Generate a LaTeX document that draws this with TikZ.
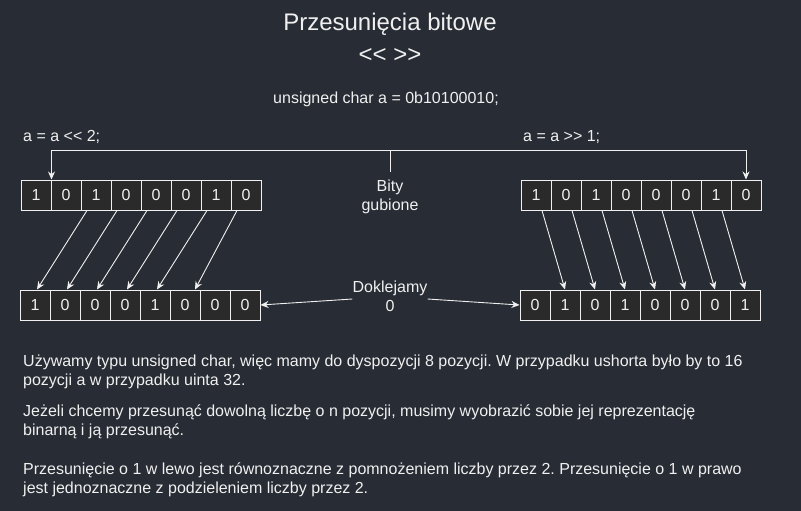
\documentclass[tikz,border=0pt]{standalone}
\usepackage{fontspec}
\setmainfont{Liberation Sans}
\frenchspacing
\usetikzlibrary{shapes,arrows.meta}
\usetikzlibrary{calc}
\definecolor{bgdark}{HTML}{282C34}
\definecolor{cellfill}{HTML}{2A2A2A}
\definecolor{fg}{HTML}{F0F0F0}
\tikzstyle{bit} = [rectangle, draw=fg, fill=cellfill, line width=1pt, minimum width=30pt,
minimum height = 30pt, inner sep=0pt, text=fg, font=\fontsize{16}{19}\selectfont]
\tikzstyle{note} = [text=fg, inner sep=0pt, font=\fontsize{16}{19}\selectfont]
\tikzstyle{line} = [draw, -{Stealth[length=8pt,width=7pt]}, color=fg, line width=0.9pt]

\begin{document}
\begin{tikzpicture}[x=1pt, y=-1pt]
	\fill [bgdark] (0,0) rectangle (801,511);
	\useasboundingbox (0,0) rectangle (801,511);
	%% Header
	\node [note, font=\fontsize{24}{28}\selectfont] (title) at (390,24) {Przesunięcia bitowe};
	\node [note, font=\fontsize{24}{28}\selectfont] (ops) at (390,56) {<\kern0pt< >\kern0pt>};
	\node [note] (decl) at (386,99) {unsigned char a = 0b10100010;};
	\node [note, anchor=west] (shl) at (23,137) {a = a <\kern0pt< 2;};
	\node [note, anchor=west] (shr) at (523,137) {a = a >\kern0pt> 1;};
	%% Bits
	\foreach \b [count=\i] in {1,0,1,0,0,0,1,0}
		\node [bit] (tl\i) at (6+30*\i,195) {\b};
	\foreach \b [count=\i] in {1,0,0,0,1,0,0,0}
		\node [bit] (bl\i) at (5+30*\i,305) {\b};
	\foreach \b [count=\i] in {1,0,1,0,0,0,1,0}
		\node [bit] (tr\i) at (506+30*\i,195) {\b};
	\foreach \b [count=\i] in {0,1,0,1,0,0,0,1}
		\node [bit] (br\i) at (505+30*\i,305) {\b};
	\node [note, align=center, inner ysep=8pt] (lost) at (390,197) {Bity\\gubione};
	\node [note, align=center] (glue) at (390,296) {Doklejamy\\0};
	\coordinate (top) at (390,150);
	%% Flows
	\path [line] (lost.north) -- (top) -| (tl1.north east);
	\path [line] (top) -| (tr8.north);
	\foreach \i/\e in {1/2,2/2,3/2,4/2,5/2,6/10} {
		\pgfmathtruncatemacro{\j}{\i+2}
		\path [line] ([xshift=-9pt]tl\j.south) -- ([xshift=\e pt]bl\i.north);
	}
	\foreach \i in {1,...,7} {
		\pgfmathtruncatemacro{\j}{\i+1}
		\path [line] ([xshift=6pt]tr\i.south) -- (br\j.north);
	}
	\path [line] ([yshift=-3pt]glue.west) -- (bl8.east);
	\path [line] ([yshift=-3pt]glue.east) -- (br1.west);
	%% Notes
	\node [note, anchor=west, align=left] (p1) at (23,371.5) {Używamy typu unsigned char, więc mamy do dyspozycji 8 pozycji. W przypadku ushorta było by to 16\\pozycji a w przypadku uinta 32.};
	\node [note, anchor=west, align=left] (p2) at (23,422) {Jeżeli chcemy przesunąć dowolną liczbę o n pozycji, musimy wyobrazić sobie jej reprezentację\\binarną i ją przesunąć.};
	\node [note, anchor=west, align=left] (p3) at (23,479.5) {Przesunięcie o 1 w lewo jest równoznaczne z pomnożeniem liczby przez 2. Przesunięcie o 1 w prawo\\jest jednoznaczne z podzieleniem liczby przez 2.};
\end{tikzpicture}
\end{document}
